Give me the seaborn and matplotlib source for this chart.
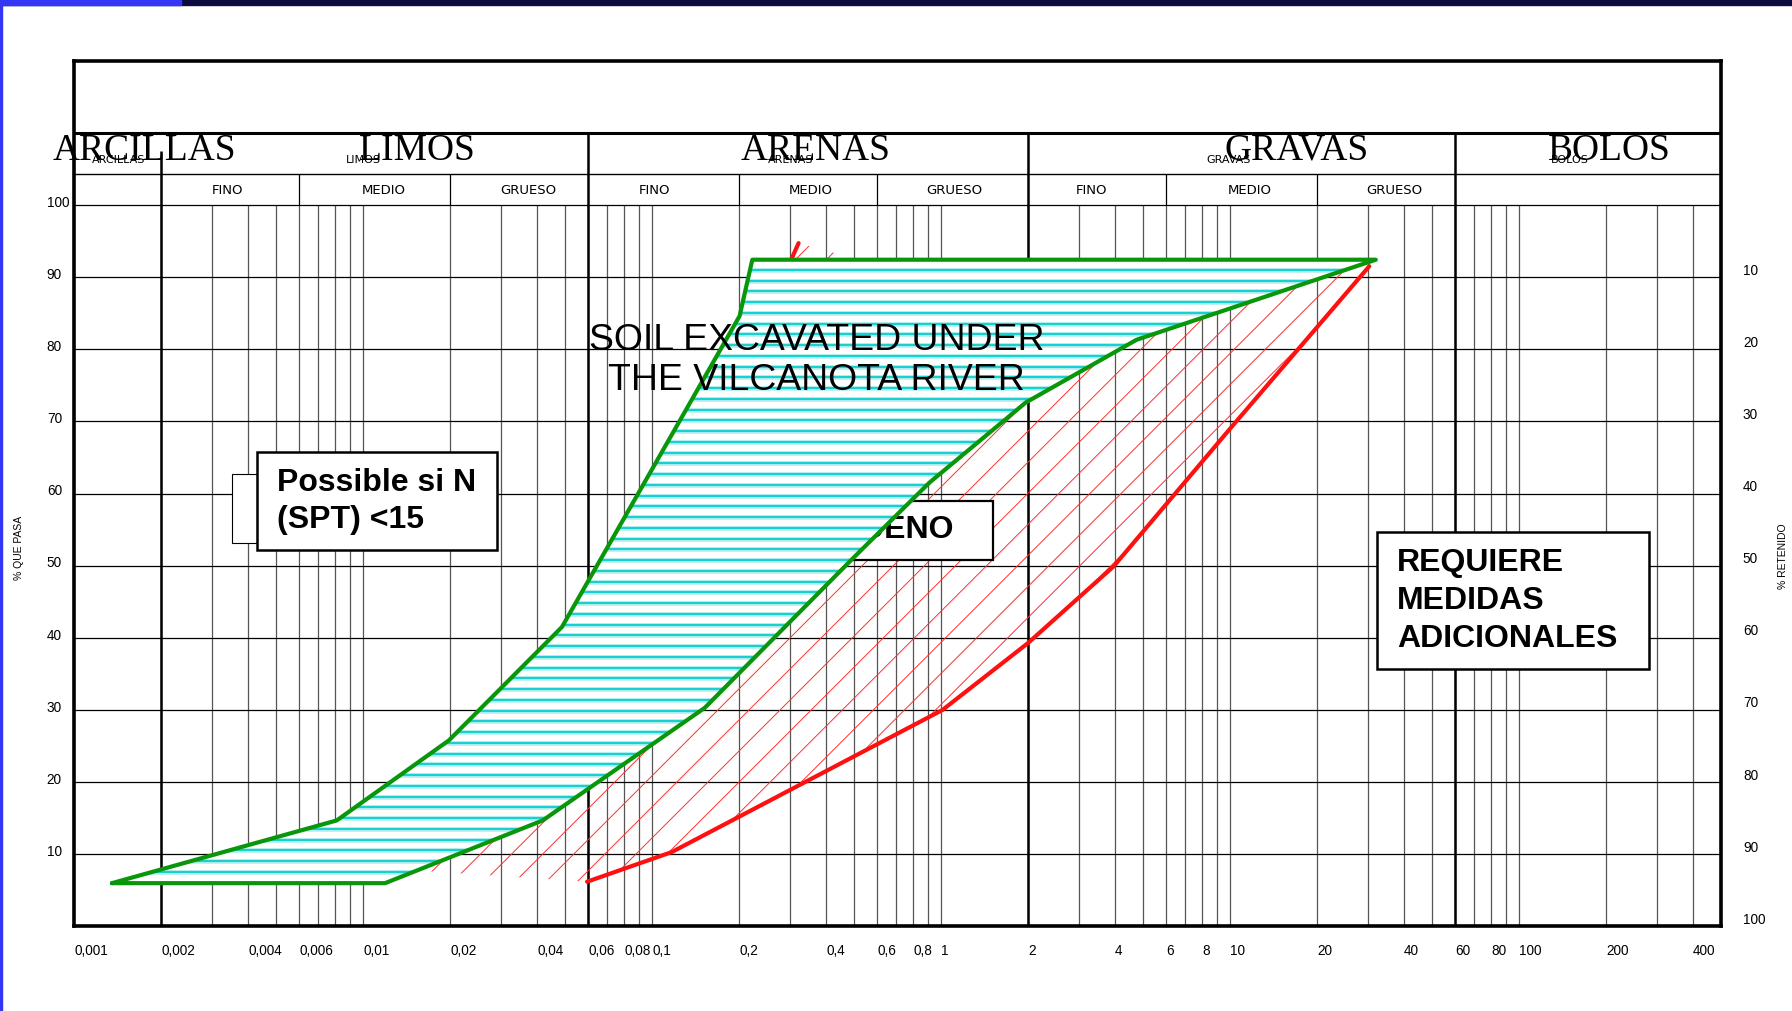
import numpy as np
import matplotlib
matplotlib.use("Agg")
import matplotlib.pyplot as plt
from matplotlib.patches import Rectangle
import seaborn as sns

# =========================
# Data
# =========================
# envelope of the soil excavated under the Vilcanota river (green)
green_fine_x = [0.00135, 0.0081, 0.0198, 0.0487, 0.2006, 0.222]
green_fine_y = [6.0, 14.7, 25.8, 41.5, 84.6, 92.4]
green_coarse_x = [31.9, 4.74, 1.96, 0.91, 0.5, 0.152, 0.0418, 0.0119]
green_coarse_y = [92.4, 81.3, 72.6, 61.5, 51.2, 30.3, 14.7, 6.0]

# red hatched zone
red_fine_x = [0.0135, 0.03, 0.1, 0.25, 0.321]
red_fine_y = [7.9, 20.0, 50.0, 85.0, 94.7]
red_top_x = [0.5]
red_top_y = [92.6]
red_coarse_x = [30.3, 10.0, 3.95, 2.0, 1.01, 0.1167, 0.0595]
red_coarse_y = [91.5, 69.0, 49.9, 39.3, 30.0, 10.3, 6.2]

# grain size classes
class_edges = [0.06, 2, 60]
clay_edge = [0.002]
sub_edges = [0.006, 0.02, 0.2, 0.6, 6, 20]
class_names = ["ARCILLAS", "LIMOS", "ARENAS", "GRAVAS", "BOLOS"]
sub_names = ["FINO", "MEDIO", "GRUESO"] * 3

x_ticks = [0.001, 0.002, 0.004, 0.006, 0.01, 0.02, 0.04, 0.06, 0.08, 0.1,
           0.2, 0.4, 0.6, 0.8, 1, 2, 4, 6, 8, 10, 20, 40, 60, 80, 100, 200, 400]
x_labels = ["0,001", "0,002", "0,004", "0,006", "0,01", "0,02", "0,04", "0,06",
            "0,08", "0,1", "0,2", "0,4", "0,6", "0,8", "1", "2", "4", "6", "8",
            "10", "20", "40", "60", "80", "100", "200", "400"]
pasa_ticks = [10, 20, 30, 40, 50, 60, 70, 80, 90, 100]
retenido_ticks = [10, 20, 30, 40, 50, 60, 70, 80, 90, 100]

box_possible = ["Possible si N", "(SPT) <15"]
box_bueno = "BUENO"
box_requiere = ["REQUIERE", "MEDIDAS", "ADICIONALES"]
soil_text = ["SOIL EXCAVATED UNDER", "THE VILCANOTA RIVER"]

# =========================
# Layout (axes fractions)
# =========================
big_label_x = [0.0426, 0.2082, 0.4504, 0.7423, 0.9320]
small_label_x = [0.0271, 0.1756, 0.4348, 0.7012, 0.9083]
sub_label_x = [0.0930, 0.1881, 0.2759, 0.3525, 0.4469, 0.5344, 0.6178, 0.7136, 0.8018]

sns.set_theme(style="white")
plt.rcParams["font.family"] = ["Liberation Sans", "DejaVu Sans"]
plt.rcParams["text.color"] = "black"

fig = plt.figure(figsize=(17.92, 10.11), dpi=100)
ax = fig.add_axes([0.04145, 0.08362, 0.91901, 0.85649])
ax.set_xscale("log")
ax.set_xlim(0.001, 500)
ax.set_ylim(0, 120)
ax.autoscale(False)

# ---- grid ----
grid_x = [k * 10.0 ** n for n in range(-3, 3) for k in range(1, 10)]
grid_x = [g for g in grid_x if 0.0015 < g < 450]
ax.vlines(grid_x, 0, 100, colors="#555555", lw=0.9, zorder=1)
ax.vlines(class_edges, 0, 110, colors="black", lw=1.8, zorder=1.5)
ax.vlines(clay_edge, 0, 107.5, colors="black", lw=1.8, zorder=1.5)
ax.vlines(sub_edges, 100, 104.3, colors="black", lw=0.9, zorder=1.5)
ax.hlines(pasa_ticks, 0.001, 500, colors="black", lw=0.9, zorder=1.2)
ax.hlines([104.3], 0.001, 500, colors="black", lw=1.0, zorder=1.2)
ax.hlines([110], 0.001, 500, colors="black", lw=2.2, zorder=1.5)

# ---- red hatched zone ----
red_x = red_fine_x + red_top_x + red_coarse_x
red_y = red_fine_y + red_top_y + red_coarse_y
red_poly = ax.fill(red_x, red_y, facecolor="none", edgecolor="none", zorder=2)[0]
ratio = 1441 / 758  # axes width / height in pixels -> 45 degree lines
step = 0.01888
c0 = 0.1838
for c in np.arange(c0 - 60 * step, 1.0, step):
    ax.plot([c, c + 1 / ratio], [0, 1], transform=ax.transAxes, color="#ff3030",
            lw=0.7, zorder=2, clip_path=red_poly)
sns.lineplot(x=red_coarse_x, y=red_coarse_y, sort=False, estimator=None,
             color="#ff1010", lw=3.0, ax=ax, zorder=3)
sns.lineplot(x=red_fine_x, y=red_fine_y, sort=False, estimator=None,
             color="#ff1010", lw=3.0, ax=ax, zorder=3)

# ---- BUENO box (under the green envelope) ----
ax.add_patch(Rectangle((0.451, 0.4235), 0.1066, 0.0681, transform=ax.transAxes,
                       facecolor="white", edgecolor="black", lw=1.6, zorder=4))
ax.text(0.5345, 0.4574, box_bueno, transform=ax.transAxes, ha="right", va="center",
        fontsize=23, fontweight="bold", zorder=4.1)

# ---- green envelope ----
green_x = green_fine_x + green_coarse_x + green_fine_x[:1]
green_y = green_fine_y + green_coarse_y + green_fine_y[:1]
green_poly = ax.fill(green_x, green_y, facecolor="white", edgecolor="none", zorder=5)[0]
for yy in np.arange(6.07, 92.4, 1.49):
    ax.axhline(yy, color="#b8f0f0", lw=3.4, zorder=5.1, clip_path=green_poly)
    ax.axhline(yy, color="#1ccfcf", lw=1.6, zorder=5.2, clip_path=green_poly)
sns.lineplot(x=green_x, y=green_y, sort=False, estimator=None, color="#0a960a",
             lw=3.0, ax=ax, zorder=6, solid_joinstyle="round")

# ---- annotation boxes ----
ax.add_patch(Rectangle((0.0960, 0.4427), 0.0148, 0.0800, transform=ax.transAxes,
                       facecolor="white", edgecolor="black", lw=0.8, zorder=7))
ax.add_patch(Rectangle((0.1108, 0.4342), 0.1457, 0.1133, transform=ax.transAxes,
                       facecolor="white", edgecolor="black", lw=1.8, zorder=7))
for txt, yy in zip(box_possible, [0.512, 0.4697]):
    ax.text(0.1233, yy, txt, transform=ax.transAxes, ha="left", va="center",
            fontsize=23, fontweight="bold", zorder=7.1)

ax.add_patch(Rectangle((0.7908, 0.2976), 0.1656, 0.1574, transform=ax.transAxes,
                       facecolor="white", edgecolor="black", lw=1.8, zorder=7))
for txt, yy in zip(box_requiere, [0.4197, 0.3753, 0.3319]):
    ax.text(0.8031, yy, txt, transform=ax.transAxes, ha="left", va="center",
            fontsize=23, fontweight="bold", zorder=7.1)

for txt, yy in zip(soil_text, [0.6763, 0.6301]):
    ax.text(0.4507, yy, txt, transform=ax.transAxes, ha="center", va="center",
            fontsize=26.9, zorder=10)

# ---- header labels ----
for name, xs in zip(class_names, small_label_x):
    ax.text(xs, 0.8857, name, transform=ax.transAxes, ha="center", va="center",
            fontsize=8, family=["Liberation Sans Narrow", "DejaVu Sans"], zorder=8)
for name, xs in zip(class_names, big_label_x):
    ax.text(xs, 0.8963, name, transform=ax.transAxes, ha="center", va="center",
            fontsize=27, family=["Liberation Serif", "DejaVu Serif"], zorder=9)
for name, xs in zip(sub_names, sub_label_x):
    ax.text(xs, 0.8496, name, transform=ax.transAxes, ha="center", va="center",
            fontsize=9.5, family=["Liberation Sans Narrow", "DejaVu Sans"], zorder=8)

# ---- tick labels ----
ax.set_xticks([])
ax.set_xticks([], minor=True)
ax.set_yticks([])
xt = ax.get_xaxis_transform()
for v, lab in zip(x_ticks, x_labels):
    ax.text(v, -0.0286, lab, transform=xt, ha="left", va="center", fontsize=9.8)
yt = ax.get_yaxis_transform()
for v in pasa_ticks:
    ax.text(-0.0167, v + 0.3, str(v), transform=yt, ha="left", va="center", fontsize=9.8)
for r in retenido_ticks:
    ax.text(1.0132, 100 - r + 0.9, str(r), transform=yt, ha="left", va="center",
            fontsize=9.8)
ax.text(-0.0333, 0.4367, "% QUE PASA", transform=ax.transAxes, rotation=90,
        ha="center", va="center", fontsize=7.5)
ax.text(1.0375, 0.4274, "% RETENIDO", transform=ax.transAxes, rotation=90,
        ha="center", va="center", fontsize=7.5)

for s in ax.spines.values():
    s.set_color("black")
    s.set_linewidth(2.6)
    s.set_zorder(11)

# ---- slide decoration ----
fig.add_artist(Rectangle((0, 0.995), 1, 0.005, transform=fig.transFigure,
                         color="#0b0b40", zorder=0))
fig.add_artist(Rectangle((0, 0.995), 0.101, 0.005, transform=fig.transFigure,
                         color="#3535f5", zorder=1))
fig.add_artist(Rectangle((0, 0), 0.0011, 1, transform=fig.transFigure,
                         color="#3535f5", zorder=1))

fig.savefig("out.png", dpi=100)
